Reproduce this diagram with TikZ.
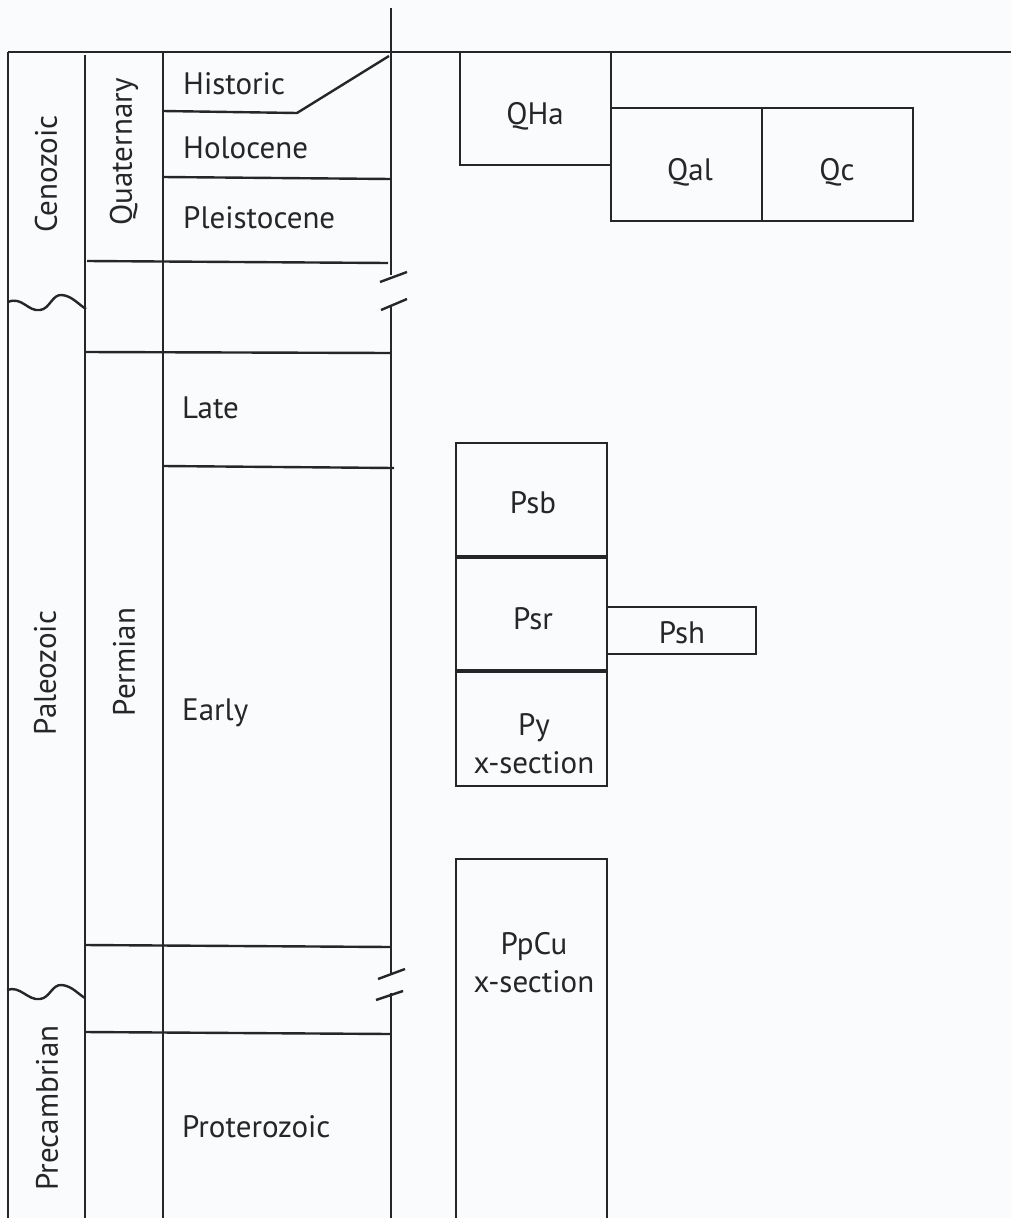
\documentclass[tikz,border=0pt]{standalone}
\usepackage{fontspec}
\setmainfont{PT Sans}
\begin{document}
\begin{tikzpicture}[x=1pt,y=-1pt,
  ln/.style={line width=2.4pt, color=black!85},
  lbl/.style={font=\fontsize{31}{36}\selectfont, text=black!85, inner sep=0pt},
  unit/.style={draw=black!85, line width=2.4pt, minimum width=151pt, inner sep=0pt},
  utxt/.style={font=\fontsize{31}{38}\selectfont, text=black!85, inner sep=0pt, align=center, anchor=base}]
\useasboundingbox[fill={rgb,255:red,250;green,251;blue,253}] (0,0) rectangle (1011,1218);
% frame lines
\draw[ln] (8,52) -- (1011,52);
\draw[ln] (8,52) -- (8,1218);
\draw[ln] (85,55) -- (85,1218);
\draw[ln] (163,52) -- (163,1218);
\draw[ln] (391,8) -- (391,275);
\draw[ln] (391,305) -- (391,973);
\draw[ln] (391,993) -- (391,1218);
% break marks
\draw[ln] (380,282) -- (407,272);
\draw[ln] (381,310) -- (407,299);
\draw[ln] (378,979) -- (405,969);
\draw[ln] (376,1000) -- (403,991);
% horizontal divisions
\draw[ln] (163,111) -- (297,113) -- (389,56);
\draw[ln] (163,177) -- (391,179);
\draw[ln] (87,261) -- (388,263);
\draw[ln] (85,352) -- (391,353);
\draw[ln] (163,466) -- (394,468);
\draw[ln] (85,945) -- (391,947);
\draw[ln] (85,1032) -- (391,1034);
% wavy unconformities
\draw[ln] (8,302) .. controls (22,296) and (28,312) .. (40,310) .. controls (50,309) and (52,294) .. (62,295) .. controls (72,296) and (78,304) .. (86,309);
\draw[ln] (7,990) .. controls (20,985) and (28,1001) .. (40,999) .. controls (50,998) and (52,984) .. (62,985) .. controls (72,986) and (78,994) .. (85,998);
% column labels
\node[lbl, rotate=90] (ceno) at (46,174) {Cenozoic};
\node[lbl, rotate=90] (quat) at (124,152) {Quaternary};
\node[lbl, rotate=90] (paleo) at (45,673) {Paleozoic};
\node[lbl, rotate=90] (perm) at (124,662) {Permian};
\node[lbl, rotate=90] (precam) at (47,1108) {Precambrian};
\node[lbl, anchor=west] (hist) at (183,84) {Historic};
\node[lbl, anchor=west] (holo) at (183,148) {Holocene};
\node[lbl, anchor=west] (pleis) at (183,218) {Pleistocene};
\node[lbl, anchor=west] (late) at (182,408) {Late};
\node[lbl, anchor=west] (early) at (182,713) {Early};
\node[lbl, anchor=west] (prot) at (182,1127) {Proterozoic};
% map units
\node[unit, minimum height=113pt] (QHa) at (535.5,108.5) {};
\node[unit, minimum height=113pt] (Qal) at (686.5,164.5) {};
\node[unit, minimum height=113pt] (Qc) at (837.5,164.5) {};
\node[unit, minimum height=113pt] (Psb) at (531.5,499.5) {};
\node[unit, minimum height=114pt] (Psr) at (531.5,613) {};
\node[unit, minimum height=116pt] (Py) at (531.5,728) {};
\node[unit, line width=1.4pt, minimum width=149pt, minimum height=47pt] (Psh) at (681.5,630.5) {};
\node[unit, minimum height=370pt, anchor=north] (PpCu) at (531.5,858) {};
\node[utxt] (QHaT) at (535,124) {QHa};
\node[utxt] (QalT) at (690,180) {Qal};
\node[utxt] (QcT) at (837,180) {Qc};
\node[utxt] (PsbT) at (533,513) {Psb};
\node[utxt] (PsrT) at (533,629) {Psr};
\node[utxt] (PshT) at (682,643) {Psh};
\node[utxt] (PyT) at (534,773) {Py\\x-section};
\node[utxt] (PpCuT) at (534,992) {PpCu\\x-section};
% thick dividers
\draw[line width=4pt, color=black!85] (Psb.south west) -- (Psb.south east);
\draw[line width=4pt, color=black!85] (Psr.south west) -- (Psr.south east);
\end{tikzpicture}
\end{document}
